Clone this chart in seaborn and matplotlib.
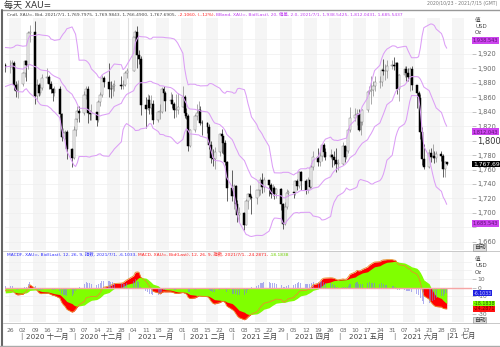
import numpy as np
import pandas as pd
import matplotlib
matplotlib.use("Agg")
import matplotlib.pyplot as plt
import matplotlib.transforms as mtrans
from matplotlib.lines import Line2D
import seaborn as sns

# ---------------- data ----------------
# closes before the visible window (only used to warm up BBand(20) and MACD(12,26,9))
warm_closes = [
    1976, 2019, 2039, 2063, 2035, 2028, 1912, 1915, 1954, 1944, 1986, 2001, 1929, 1946, 1940,
    1929, 1908, 1953, 1930, 1964, 1968,
    1970, 1943, 1930, 1934, 1932, 1930, 1946, 1947, 1941, 1956, 1954, 1958, 1944, 1950,
    1912, 1900, 1863, 1868, 1862, 1881, 1898, 1886,
    1906, 1900, 1914, 1877, 1887, 1893, 1930, 1922, 1892, 1902, 1908, 1899, 1905, 1907, 1924, 1904,
]
holidays = ["2020-12-25", "2021-01-01"]

opens = [
    1904, 1902, 1902, 1908, 1877, 1868,
    1879, 1894, 1910, 1904, 1949, 1951, 1862, 1877, 1866, 1873, 1887, 1888, 1879, 1871, 1866,
    1871, 1837, 1805, 1811, 1812, 1788,
    1776, 1815, 1830, 1841, 1838, 1863, 1871, 1838, 1837, 1839, 1828, 1854, 1863, 1886,
    1881, 1872, 1871, 1876, 1877, 1876, 1877, 1893,
    1897, 1944, 1950, 1918, 1913, 1849, 1844, 1856, 1845, 1851, 1828, 1840, 1840, 1871, 1866,
    1855, 1856, 1850, 1843, 1843,
    1847, 1861, 1838, 1834, 1793, 1814, 1834, 1838, 1842, 1825, 1824, 1819, 1794, 1776, 1775,
    1784, 1809, 1806, 1797, 1771,
    1734, 1723, 1737, 1712, 1697, 1700, 1683, 1716, 1726, 1722, 1720, 1731, 1731, 1745, 1736,
    1745, 1738, 1726, 1734, 1726, 1733, 1712, 1685,
    1708, 1728, 1729, 1728, 1744, 1737, 1756, 1744, 1732, 1746, 1736, 1764, 1777, 1770, 1779,
    1794, 1784, 1777, 1780, 1777, 1773, 1768,
    1768, 1792, 1778, 1785, 1815, 1831, 1836, 1837, 1815, 1826, 1843, 1867, 1869, 1870, 1876,
    1881, 1881, 1898, 1896, 1896, 1903,
    1905, 1903, 1908, 1871, 1891, 1899, 1893, 1888, 1899, 1877, 1866, 1859, 1812, 1774, 1764,
    1783, 1778, 1779, 1776, 1781, 1779, 1761,
    1769.80,
]
highs = [
    1908, 1911, 1911, 1910, 1882, 1884,
    1895, 1911, 1911, 1952, 1960, 1966, 1885, 1880, 1880, 1892, 1901, 1891, 1882, 1873, 1876,
    1876, 1838, 1818, 1815, 1815, 1790,
    1820, 1832, 1848, 1848, 1868, 1875, 1875, 1842, 1850, 1843, 1856, 1867, 1891, 1889,
    1907, 1882, 1880, 1884, 1889, 1884, 1896, 1900,
    1944, 1953, 1959, 1926, 1917, 1860, 1864, 1863, 1863, 1856, 1841, 1850, 1874, 1875, 1869,
    1867, 1864, 1853, 1865, 1866,
    1875, 1863, 1845, 1837, 1816, 1837, 1850, 1855, 1848, 1829, 1826, 1823, 1799, 1789, 1791,
    1811, 1816, 1807, 1801, 1772,
    1760, 1740, 1739, 1718, 1708, 1701, 1719, 1727, 1739, 1725, 1732, 1740, 1749, 1755, 1750,
    1745, 1741, 1740, 1737, 1735, 1734, 1714, 1715,
    1733, 1731, 1739, 1746, 1747, 1758, 1758, 1747, 1749, 1748, 1769, 1785, 1790, 1785, 1794,
    1797, 1790, 1789, 1782, 1785, 1790, 1775,
    1798, 1794, 1793, 1818, 1846, 1845, 1844, 1844, 1829, 1844, 1868, 1875, 1889, 1882, 1890,
    1889, 1900, 1913, 1906, 1912, 1912,
    1916, 1909, 1909, 1892, 1903, 1903, 1900, 1902, 1903, 1877, 1869, 1865, 1819, 1795, 1789,
    1790, 1795, 1785, 1786, 1786, 1782, 1772,
    1769.98,
]
lows = [
    1895, 1894, 1899, 1870, 1860, 1859,
    1876, 1888, 1882, 1899, 1936, 1850, 1855, 1862, 1863, 1870, 1880, 1872, 1866, 1855, 1862,
    1828, 1800, 1803, 1802, 1775, 1764,
    1774, 1807, 1826, 1826, 1836, 1857, 1825, 1828, 1828, 1820, 1826, 1848, 1860, 1874,
    1860, 1859, 1862, 1869, 1871, 1872, 1875, 1887,
    1897, 1937, 1901, 1906, 1835, 1817, 1843, 1837, 1837, 1823, 1826, 1830, 1838, 1857, 1841,
    1850, 1845, 1831, 1832, 1837,
    1846, 1831, 1830, 1785, 1791, 1812, 1829, 1836, 1821, 1808, 1810, 1789, 1769, 1765, 1761,
    1779, 1783, 1782, 1766, 1717,
    1717, 1706, 1702, 1687, 1687, 1676, 1683, 1706, 1719, 1699, 1712, 1723, 1725, 1728, 1729,
    1724, 1721, 1723, 1719, 1720, 1704, 1677, 1683,
    1705, 1723, 1721, 1725, 1731, 1735, 1731, 1726, 1728, 1734, 1735, 1759, 1765, 1765, 1772,
    1778, 1773, 1774, 1763, 1766, 1756, 1760,
    1766, 1770, 1774, 1783, 1812, 1827, 1822, 1813, 1808, 1822, 1839, 1864, 1850, 1862, 1869,
    1873, 1876, 1891, 1884, 1886, 1899,
    1898, 1894, 1865, 1855, 1888, 1882, 1883, 1868, 1870, 1845, 1844, 1802, 1766, 1761, 1762,
    1770, 1776, 1769, 1770, 1772, 1750, 1750,
    1766.49,
]
closes = [
    1902, 1902, 1908, 1877, 1868, 1879,
    1894, 1910, 1904, 1949, 1951, 1862, 1877, 1866, 1873, 1887, 1888, 1879, 1871, 1866, 1871,
    1837, 1805, 1811, 1812, 1788, 1776,
    1815, 1830, 1841, 1838, 1863, 1871, 1838, 1837, 1839, 1828, 1854, 1863, 1886, 1881,
    1872, 1871, 1876, 1877, 1876, 1877, 1893, 1897,
    1944, 1950, 1918, 1913, 1849, 1844, 1856, 1845, 1851, 1828, 1840, 1840, 1871, 1866, 1855,
    1856, 1850, 1843, 1843, 1847,
    1861, 1838, 1834, 1793, 1814, 1834, 1838, 1842, 1825, 1824, 1819, 1794, 1776, 1775, 1784,
    1809, 1806, 1797, 1771, 1734,
    1723, 1737, 1712, 1697, 1700, 1683, 1716, 1726, 1722, 1720, 1731, 1731, 1745, 1736, 1745,
    1738, 1726, 1734, 1726, 1733, 1712, 1685, 1708,
    1728, 1729, 1728, 1744, 1737, 1756, 1744, 1732, 1746, 1736, 1764, 1777, 1770, 1779, 1794,
    1784, 1777, 1780, 1777, 1773, 1768, 1768,
    1792, 1778, 1785, 1815, 1831, 1836, 1837, 1815, 1826, 1843, 1867, 1869, 1870, 1876, 1881,
    1881, 1898, 1896, 1896, 1903, 1905,
    1903, 1908, 1871, 1891, 1899, 1893, 1888, 1899, 1877, 1866, 1859, 1812, 1774, 1764, 1783,
    1778, 1779, 1776, 1781, 1779, 1761, 1769.80,
    1767.69,
]

price_ticks = [1660, 1680, 1700, 1720, 1740, 1760, 1780, 1800, 1820, 1840, 1860, 1880, 1900, 1920, 1940]
hidden_price_labels = [1680, 1940]          # covered by the band value boxes
macd_ticks = [-30, -20, -10, 0, 10]
hidden_macd_labels = [-20]                  # covered by the value boxes
band_labels = [1938.543, 1812.043, 1685.543]
last_price_label = 1767.69
macd_labels = [-6.1033, -18.1838, -24.2871]   # MACDF (hist), signal, MACD
month_starts = ["2020-11-01", "2020-12-01", "2021-01-01", "2021-02-01", "2021-03-01",
                "2021-04-01", "2021-05-01", "2021-06-01", "2021-07-01", "2021-08-01"]
month_names = ["2020 十一月", "2020 十二月", "2021 一月", "2021 二月", "2021 三月",
               "2021 四月", "2021 五月", "2021 六月"]

# ---------------- derived ----------------
all_days = pd.bdate_range("2020-08-03", "2021-07-01")
all_days = all_days[~all_days.isin(pd.to_datetime(holidays))]
n_warm = len(warm_closes)
dates = all_days[n_warm:]
if not (len(dates) == len(closes) == len(opens) == len(highs) == len(lows)):
    raise SystemExit("length mismatch")

s = pd.Series(warm_closes + closes, index=all_days, dtype=float)
mid = s.rolling(20).mean()
sd = s.rolling(20).std(ddof=0)
up = mid + 2 * sd
lo = mid - 2 * sd
ema12 = s.ewm(span=12, adjust=False).mean()
ema26 = s.ewm(span=26, adjust=False).mean()
macd = ema12 - ema26
sig = macd.ewm(span=9, adjust=False).mean()
hist = macd - sig

vis = s.index >= dates[0]
df = pd.DataFrame({"date": dates, "open": opens, "high": highs, "low": lows, "close": closes})
ind = pd.DataFrame({"date": s.index[vis], "up": up[vis].values, "mid": mid[vis].values,
                    "lo": lo[vis].values, "macd": macd[vis].values, "sig": sig[vis].values,
                    "hist": hist[vis].values})

# ---------------- figure ----------------
sns.set_style("white")
plt.rcParams["font.family"] = ["DejaVu Sans", "Noto Sans CJK SC"]
W, H = 500, 347
fig = plt.figure(figsize=(5, 3.47), dpi=100)

def fy(y):
    return 1 - y / H

ax = fig.add_axes([5 / W, fy(250), 467 / W, 232 / H])
axm = fig.add_axes([5 / W, fy(322), 467 / W, 70 / H], sharex=ax)

x0 = pd.Timestamp("2020-10-22 21:00")
x1 = x0 + pd.Timedelta(days=265.5)
for a in (ax, axm):
    a.set_xlim(x0, x1)
    for sp in a.spines.values():
        sp.set_visible(False)
    mondays = pd.date_range("2020-10-19", "2021-07-19", freq="W-MON")
    for i, m in enumerate(mondays):
        if i % 2 == 1:
            a.axvspan(m - pd.Timedelta(days=1), m + pd.Timedelta(days=6), color="#f5f5f5", lw=0, zorder=0)
    a.axvline(pd.Timestamp("2021-01-01"), color="#dedede", lw=0.8, zorder=0.5)

# main panel
ax.set_ylim(1648.6, 1969.7)
ax.set_yticks(price_ticks)
ax.set_yticklabels(["" if v in hidden_price_labels else f"{v:,}" for v in price_ticks])
for v in price_ticks:
    ax.axhline(v, color="#eeeeee", lw=0.5, zorder=0.3)
ax.yaxis.tick_right()
ax.tick_params(axis="y", length=3, width=0.5, color="#aaaaaa", pad=1, labelsize=4.8, labelcolor="#666666")
ax.tick_params(axis="x", length=0, labelbottom=False)
for lab in ax.get_yticklabels():
    if lab.get_text() == "1,800":
        lab.set_fontsize(6)
        lab.set_color("#333333")

upc = df["close"] >= df["open"]
for is_up, face, edge, wick in [(True, "white", "#777777", "#888888"), (False, "black", "black", "#222222")]:
    d = df[upc == is_up]
    ax.vlines(d["date"], d["low"], d["high"], color=wick, lw=0.5, zorder=2)
    ax.bar(d["date"], (d["close"] - d["open"]).abs().clip(lower=0.8),
           bottom=d[["open", "close"]].min(axis=1), width=1.1,
           color=face, edgecolor=edge, linewidth=0.35, zorder=3)

bbc = "#dc9ef6"
for col in ["up", "mid", "lo"]:
    sns.lineplot(data=ind, x="date", y=col, ax=ax, color=bbc, lw=0.75, legend=False, zorder=4)
ax.set_xlabel("")
ax.set_ylabel("")

# MACD panel
axm.set_ylim(-39.4, 41)
for v in [-30, -20, -10, 10, 20, 30]:
    axm.axhline(v, color="#eeeeee", lw=0.5, zorder=0.3)
axm.fill_between(ind["date"], ind["macd"], 0, color="#ff0000", lw=0, zorder=2)
axm.fill_between(ind["date"], ind["sig"], 0, color="#80ff00", lw=0, zorder=2.2)
axm.bar(ind["date"], ind["hist"], width=0.6, color="#7a7ae6", alpha=0.6, lw=0, zorder=2.4)
sns.lineplot(data=ind, x="date", y="macd", ax=axm, color="#e8902a", lw=0.6, legend=False, zorder=2.6)
axm.axhline(0, color="#f6a5a5", lw=1.0, zorder=2.8)
axm.set_xlabel("")
axm.set_ylabel("")
axm.set_yticks(macd_ticks)
axm.set_yticklabels(["" if v in hidden_macd_labels else str(v) for v in macd_ticks])
axm.yaxis.tick_right()
axm.tick_params(axis="y", length=3, width=0.5, color="#aaaaaa", pad=1, labelsize=4.3, labelcolor="#666666")
ticks = pd.date_range("2020-10-26", "2021-07-12", freq="W-MON")
axm.set_xticks(ticks)
axm.set_xticklabels([t.strftime("%d") for t in ticks])
axm.tick_params(axis="x", length=2.5, width=0.5, color="#aaaaaa", pad=1.5, labelsize=4.3, labelcolor="#666666")
axm.set_xlim(x0, x1)

# month labels
tr = axm.get_xaxis_transform()
ms = pd.to_datetime(month_starts)
for i, m in enumerate(ms[:-2]):
    axm.text(m, -0.205, "|", transform=tr, ha="center", va="center", fontsize=5, color="#777777", clip_on=False)
    axm.text(m + (ms[i + 1] - m) / 2, -0.205, month_names[i], transform=tr, ha="center", va="center",
             fontsize=5.2, color="#444444", clip_on=False)
axm.text(ms[-2], -0.205, "|21 七月", transform=tr, ha="left", va="center", fontsize=5.2,
         color="#444444", clip_on=False)

# value boxes on right
btr = mtrans.blended_transform_factory(ax.transAxes, ax.transData)
for v in band_labels:
    ax.text(1.002, v, f"{v:,.3f}", transform=btr, ha="left", va="center", fontsize=3.6, color="#5a1070",
            bbox=dict(boxstyle="square,pad=0.2", fc="#cc44ee", ec="none"), clip_on=False, zorder=10)
ax.text(1.002, last_price_label, f"{last_price_label:,.2f}", transform=btr, ha="left", va="center",
        fontsize=4.3, color="white", bbox=dict(boxstyle="square,pad=0.15", fc="black", ec="none"),
        clip_on=False, zorder=10)
mtr = mtrans.blended_transform_factory(axm.transAxes, axm.transData)
for v, fc, tc in zip(macd_labels, ["#2020e0", "#80ff00", "#ff1010"], ["#c8c8ff", "#206000", "#700000"]):
    axm.text(1.003, v, f"{v:.4f}", transform=mtr, ha="left", va="center", fontsize=3.4, color=tc,
             bbox=dict(boxstyle="square,pad=0.08", fc=fc, ec="none"), clip_on=False, zorder=10)

# unit labels & auto boxes
for y0 in (20, 259):
    for k, t in enumerate(["值", "USD", "Oz"]):
        fig.text(475 / W, fy(y0 + 6.5 * k), t, fontsize=4, color="#444444", ha="left", va="center")
for yb in (247.3, 320):
    fig.text(474 / W, fy(yb), "自动", fontsize=4.2, color="#333333", ha="left", va="center",
             bbox=dict(boxstyle="square,pad=0.12", fc="#dedede", ec="#999999", lw=0.5))

# header texts
fig.text(4 / W, fy(5), "每天 XAU=", fontsize=6.5, color="#333333", ha="left", va="center")
fig.text(497 / W, fy(4), "2020/10/23 - 2021/7/15 (GMT)", fontsize=3.3, color="#777777", ha="right", va="center")

def chain(y, parts, fs):
    prev = fig.text(7 / W, fy(y), parts[0][0], fontsize=fs, color=parts[0][1], ha="left", va="center")
    for txt, col in parts[1:]:
        prev = fig.add_artist(matplotlib.text.Annotation(txt, xy=(1, 0.5), xycoords=prev,
                                                         fontsize=fs, color=col, ha="left", va="center"))

chain(14.5, [("Cndl, XAU=, Bid, 2021/7/1, 1,769.7975, 1,769.9843, 1,766.4900, 1,767.6905, ", "#444444"),
             ("-2.1060, (-.12%), ", "#ff2020"),
             ("BBand, XAU=, Bid(Last), 20, 偏差, 2.0, 2021/7/1, 1,938.5425, 1,812.0431, 1,685.5437", "#c040f0")], 3.2)
chain(254.5, [("MACDF, XAU=, Bid(Last), 12, 26, 9, 指数, 2021/7/1, -6.1033, ", "#3030ff"),
              ("MACD, XAU=, Bid(Last), 12, 26, 9, 指数, 2021/7/1, -24.2871, ", "#ff2020"),
              ("-18.1838", "#70d000")], 3.2)

# frame lines
fig.add_artist(Line2D([3 / W, 1], [fy(10), fy(10)], color="#999999", lw=1.0))
fig.add_artist(Line2D([3 / W, 1], [fy(250.5), fy(250.5)], color="#c8c8c8", lw=0.7))
fig.add_artist(Line2D([3 / W, 1], [fy(322.5), fy(322.5)], color="#c8c8c8", lw=0.7))
fig.add_artist(Line2D([1.5 / W, 1.5 / W], [fy(10), fy(346)], color="#666666", lw=1.5))
fig.add_artist(Line2D([0, 1], [fy(345.5), fy(345.5)], color="#aaaaaa", lw=1.0))

fig.savefig("out.png", dpi=100)
